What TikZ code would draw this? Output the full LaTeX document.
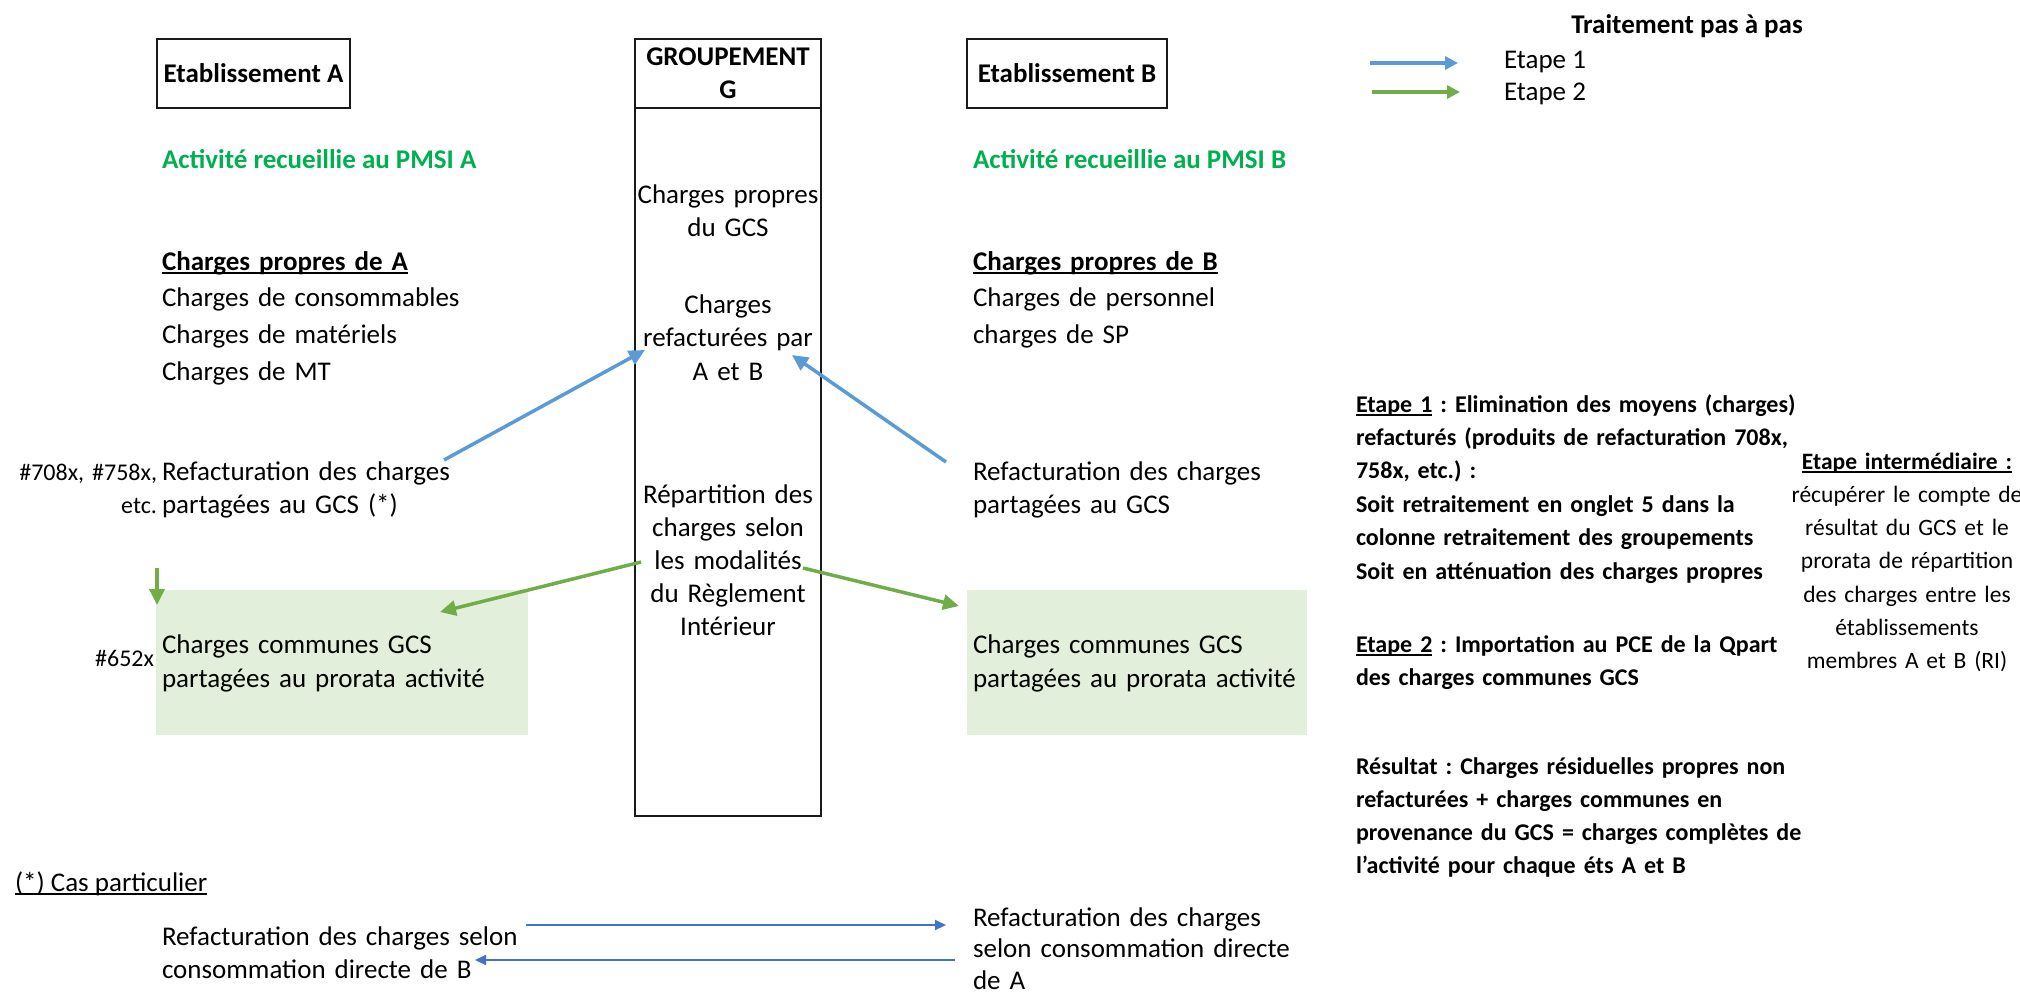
\documentclass[tikz,border=0pt]{standalone}
\usepackage{fontspec}
\setmainfont{Carlito}
\usetikzlibrary{arrows.meta}
\definecolor{eblue}{HTML}{5B9BD5}
\definecolor{egreen}{HTML}{70AD47}
\definecolor{dblue}{HTML}{4472C4}
\definecolor{gfill}{HTML}{E2EFDA}
\definecolor{gtext}{HTML}{00B050}
\definecolor{boxline}{HTML}{1A1A1A}
\frenchspacing
\newcommand\myul[1]{\setbox0\hbox{#1}\rlap{\rule[-4pt]{\wd0}{1.6pt}}\box0\relax}
\newcommand\myfs[2]{\fontsize{#1}{#2}\selectfont}
\begin{document}
\begin{tikzpicture}[x=1pt,y=-1pt,
  every node/.style={inner sep=0pt,outer sep=0pt},
  hbox/.style={draw=boxline,line width=1.8pt,font=\bfseries\myfs{27}{33}},
  gbox/.style={fill=gfill,anchor=north west},
  lt/.style={anchor=base west,text width=#1,align=left},
  rt/.style={anchor=base east,text width=#1,align=right},
  ct/.style={anchor=base,text width=#1,align=center},
  one/.style={anchor=base west},
  e1arrow/.style={draw=eblue,line width=3.5pt,-{Triangle[length=16pt,width=15pt]}},
  e2arrow/.style={draw=egreen,line width=3.5pt,-{Triangle[length=16pt,width=15pt]}},
  legarrow/.style={line width=3.3pt,-{Triangle[length=13pt,width=13pt]}},
  cparrow/.style={draw=dblue,line width=2pt,-{Triangle[length=11pt,width=10pt]}},
]
\useasboundingbox (0,0) rectangle (2020,993);

% green boxes
\node[gbox,minimum width=372pt,minimum height=145pt] (boxA) at (156,590) {};
\node[gbox,minimum width=340pt,minimum height=145pt] (boxB) at (967,590) {};

% header boxes
\node[hbox,minimum width=193pt,minimum height=69pt] (etabA) at (253.5,73.5) {Etablissement A};
\node[hbox,minimum width=186pt,minimum height=69pt,align=center] (gcshead) at (728,73.5) {GROUPEMENT\\G};
\node[draw=boxline,line width=1.8pt,minimum width=186pt,minimum height=708pt,anchor=north] (gcsbody) at (gcshead.south) {};
\node[hbox,minimum width=200pt,minimum height=69pt] (etabB) at (1067,73.5) {Etablissement B};

% column A
\node[one,font=\bfseries\myfs{27}{33},text=gtext] (pmsiA) at (162,168) {Activité recueillie au PMSI A};
\node[lt=330pt,font=\myfs{27}{36.7}] (propA) at (162,270) {\myul{\bfseries Charges propres de A}\\Charges de consommables\\Charges de matériels\\Charges de MT};
\node[rt=200pt,font=\myfs{24}{33}] (codeA) at (157,480) {\#708x, \#758x,\\etc.};
\node[lt=330pt,font=\myfs{27}{33}] (refA) at (162,480) {Refacturation des charges\\partagées au GCS (*)};
\node[lt=360pt,font=\myfs{27}{34}] (comA) at (162,653) {Charges communes GCS\\partagées au prorata activité};
\node[anchor=base east,font=\myfs{24}{33}] (code652) at (154,666) {\#652x};

% column B
\node[one,font=\bfseries\myfs{27}{33},text=gtext] (pmsiB) at (973,168) {Activité recueillie au PMSI B};
\node[lt=330pt,font=\myfs{27}{36.5}] (propB) at (973,270) {\myul{\bfseries Charges propres de B}\\Charges de personnel\\charges de SP};
\node[lt=330pt,font=\myfs{27}{33}] (refB) at (973,480) {Refacturation des charges\\partagées au GCS};
\node[lt=330pt,font=\myfs{27}{34}] (comB) at (973,653) {Charges communes GCS\\partagées au prorata activité};

% GCS contents
\node[ct=184pt,font=\myfs{27}{33}] (gcsprop) at (728,203) {Charges propres\\du GCS};
\node[ct=184pt,font=\myfs{27}{33.5}] (gcsrefac) at (728,313) {Charges\\refacturées par\\A et B};
\node[ct=184pt,font=\myfs{27}{33}] (gcsrep) at (728,503) {Répartition des\\charges selon\\les modalités\\du Règlement\\Intérieur};

% legend
\node[anchor=base,font=\bfseries\myfs{27}{33}] (legtitle) at (1687,33) {Traitement pas à pas};
\node[one,font=\myfs{27}{33}] (leg1) at (1504,68) {Etape 1};
\node[one,font=\myfs{27}{33}] (leg2) at (1504,100) {Etape 2};
\coordinate (l1s) at (1370,63); \coordinate (l1e) at (1458,63);
\coordinate (l2s) at (1372,92); \coordinate (l2e) at (1460,92);
\draw[legarrow,draw=eblue] (l1s) -- (l1e);
\draw[legarrow,draw=egreen] (l2s) -- (l2e);

% right explanations
\node[lt=480pt,font=\bfseries\myfs{24}{33.4}] (et1) at (1356,412) {\myul{Etape 1} : Elimination des moyens (charges)\\refacturés (produits de refacturation 708x,\\758x, etc.) :\\Soit retraitement en onglet 5 dans la\\colonne retraitement des groupements\\Soit en atténuation des charges propres};
\node[lt=480pt,font=\bfseries\myfs{24}{33}] (et2) at (1356,652) {\myul{Etape 2} : Importation au PCE de la Qpart\\des charges communes GCS};
\node[lt=480pt,font=\bfseries\myfs{24}{33.3}] (res) at (1356,774) {Résultat : Charges résiduelles propres non\\refacturées + charges communes en\\provenance du GCS = charges complètes de\\l'activité pour chaque éts A et B};
\node[ct=236pt,font=\myfs{23.5}{33.3}] (inter) at (1907,469) {\myul{\bfseries Etape intermédiaire :}\\récupérer le compte de\\résultat du GCS et le\\prorata de répartition\\des charges entre les\\établissements\\membres A et B (RI)};

% bottom
\node[one,font=\myfs{27}{33}] (cas) at (15,891) {\myul{(*) Cas particulier}};
\node[lt=400pt,font=\myfs{27}{33}] (cpA) at (162,945) {Refacturation des charges selon\\consommation directe de B};
\node[lt=360pt,font=\myfs{27}{31.5}] (cpB) at (973,926) {Refacturation des charges\\selon consommation directe\\de A};

% connectors
\coordinate (b1s) at (444,460); \coordinate (b1e) at (645,350);
\coordinate (b2s) at (946,462); \coordinate (b2e) at (792,355);
\coordinate (g1s) at (641,562); \coordinate (g1e) at (440,612);
\coordinate (g2s) at (803,568); \coordinate (g2e) at (959,606);
\coordinate (gds) at (157,568); \coordinate (gde) at (157,605);
\coordinate (c1s) at (526,925); \coordinate (c1e) at (946,925);
\coordinate (c2s) at (955,960); \coordinate (c2e) at (475,960);
\draw[e1arrow] (b1s) -- (b1e);
\draw[e1arrow] (b2s) -- (b2e);
\draw[e2arrow] (g1s) -- (g1e);
\draw[e2arrow] (g2s) -- (g2e);
\draw[e2arrow] (gds) -- (gde);
\draw[cparrow] (c1s) -- (c1e);
\draw[cparrow] (c2s) -- (c2e);
\end{tikzpicture}
\end{document}
